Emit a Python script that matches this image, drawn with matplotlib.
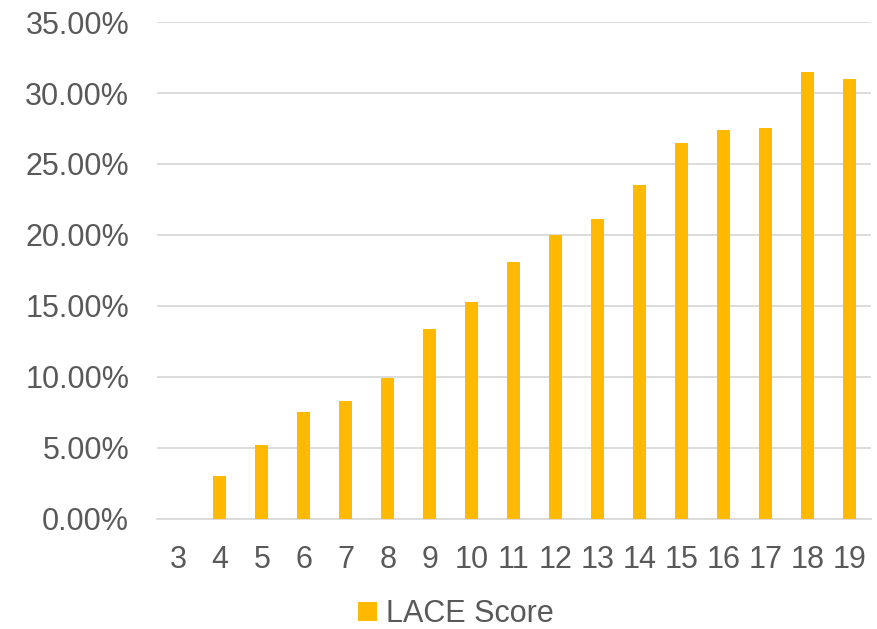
import matplotlib.pyplot as plt
from matplotlib.patches import Patch
from matplotlib.ticker import FuncFormatter

plt.rcParams['font.family'] = ['Liberation Sans', 'DejaVu Sans']

# LACE score and share (%)
scores = [3, 4, 5, 6, 7, 8, 9, 10, 11, 12, 13, 14, 15, 16, 17, 18, 19]
rates = [0.0, 3.0, 5.2, 7.5, 8.3, 9.9, 13.4, 15.3, 18.1, 20.0, 21.1, 23.5, 26.5, 27.4, 27.5, 31.5, 31.0]

barColor = '#FFB900'
gridColor = '#D9D9D9'
textColor = '#595959'

fig = plt.figure(figsize=(8.77, 6.29), dpi=100)
ax = fig.add_axes([0.179, 0.175, 0.814, 0.79])

x = list(range(len(scores)))
ax.bar(x, rates, width=0.31, color=barColor, zorder=3)

ax.set_xlim(-0.5, len(scores) - 0.5)
ax.set_ylim(0, 35)
ax.set_yticks([0, 5, 10, 15, 20, 25, 30, 35])
ax.yaxis.set_major_formatter(FuncFormatter(lambda v, p: '%.2f%%' % v))
ax.set_xticks(x)
ax.set_xticklabels([str(s) for s in scores])

ax.grid(axis='y', color=gridColor, linewidth=1.3, zorder=0)
for side in ['top', 'right', 'left']:
    ax.spines[side].set_visible(False)
ax.spines['bottom'].set_color(gridColor)
ax.spines['bottom'].set_linewidth(1.3)

ax.tick_params(axis='both', length=0, labelsize=22, labelcolor=textColor)
ax.tick_params(axis='y', pad=20)
ax.tick_params(axis='x', pad=19)

handle = Patch(facecolor=barColor, edgecolor='none')
fig.legend([handle], ['LACE Score'], loc='lower center', bbox_to_anchor=(0.52, 0.0),
           frameon=False, fontsize=22, labelcolor=textColor, borderpad=0, borderaxespad=0,
           handlelength=0.6, handleheight=0.6, handletextpad=0.3)

fig.savefig('out.png', dpi=100)
